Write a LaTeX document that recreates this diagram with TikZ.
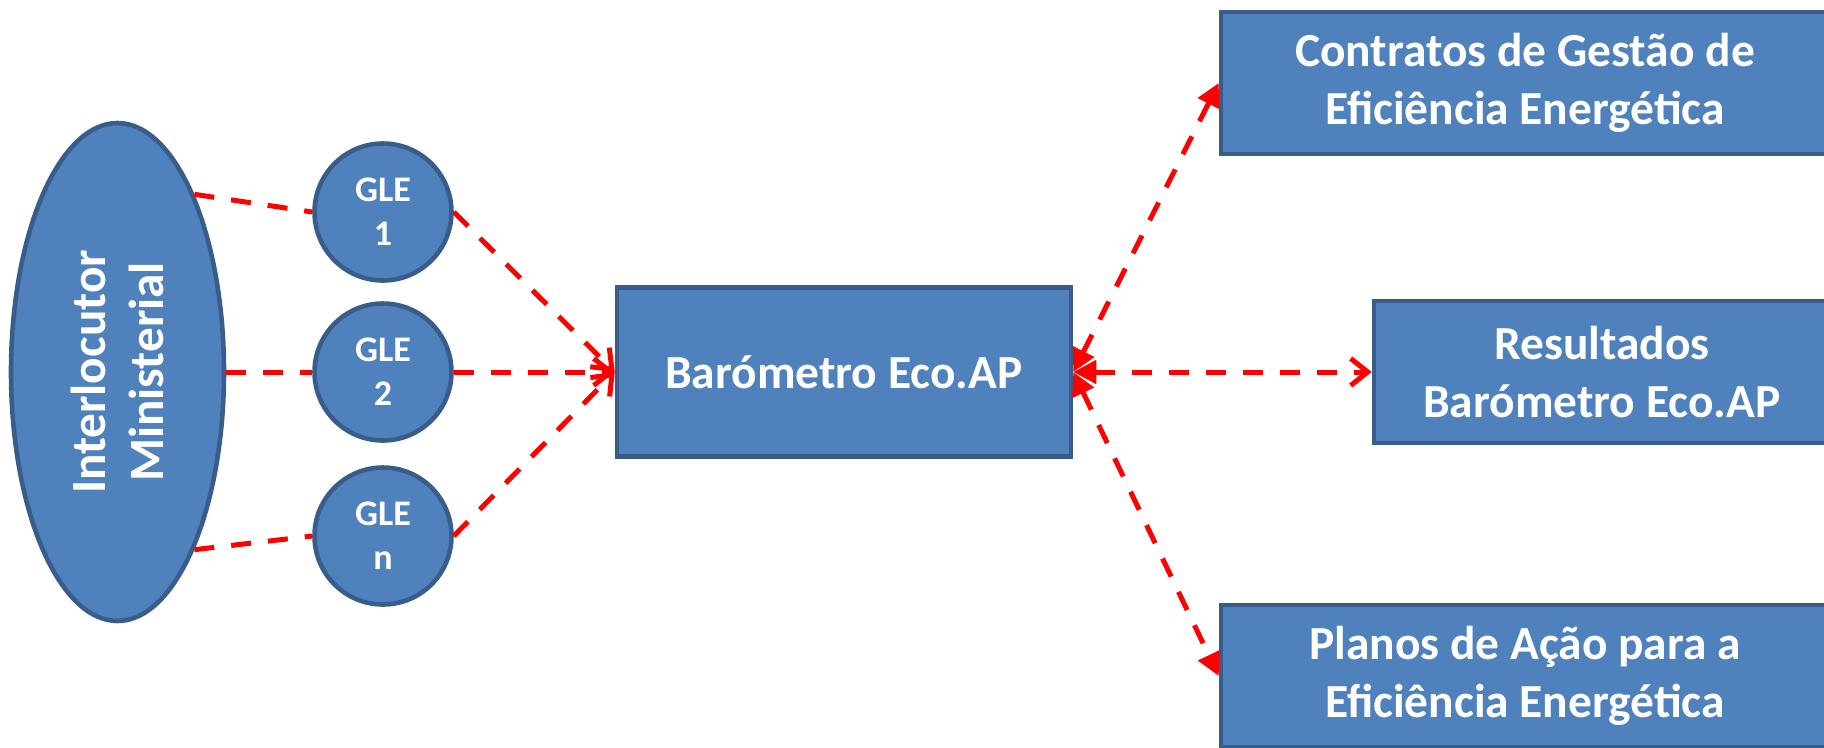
\documentclass[tikz,border=0pt]{standalone}
\usepackage{fontspec}
\setmainfont{Carlito}
\usetikzlibrary{shapes.geometric,arrows.meta}

\definecolor{boxfill}{HTML}{4F81BD}
\definecolor{boxline}{HTML}{385D8A}

\tikzset{
  blockbox/.style={draw=boxline, line width=2.6pt, fill=boxfill, text=white,
    font=\bfseries\fontsize{27}{33}\selectfont, align=center, inner sep=0pt},
  glenode/.style={circle, draw=boxline, line width=2.6pt, fill=boxfill, text=white,
    font=\bfseries\fontsize{20.5}{25}\selectfont, align=center,
    minimum size=2.74cm, inner sep=0pt},
  redlink/.style={draw=red, line width=2.85pt, dash pattern=on 0.4cm off 0.34cm},
  tri/.tip={Triangle[length=0.46cm,width=0.46cm]},
  barb/.tip={Straight Barb[length=0.34cm,width=0.54cm]}
}

\begin{document}
\begin{tikzpicture}
  \clip (0,0) rectangle (36.48,-14.94);
  \useasboundingbox (0,0) rectangle (36.48,-14.94);

  % ministry and the local managers
  \node[ellipse, draw=boxline, line width=2.6pt, fill=boxfill, minimum width=4.26cm,
    minimum height=9.96cm, inner sep=0pt] (ell) at (2.35,-7.44) {};
  \node[rotate=90, text=white, font=\bfseries\fontsize{28}{33}\selectfont, align=center]
    (elltext) at (ell) {Interlocutor\\Ministerial};

  \node[glenode] (gle1) at (7.66,-4.24) {GLE\\1};
  \node[glenode] (gle2) at (7.66,-7.44) {GLE\\2};
  \node[glenode] (glen) at (7.66,-10.72) {GLE\\n};

  % barometer and its outputs
  \node[blockbox, minimum width=9.08cm, minimum height=3.38cm] (baro) at (16.88,-7.44) {Barómetro Eco.AP};
  \node[blockbox, minimum width=12.16cm, minimum height=2.84cm] (contr) at (30.5,-1.66) {Contratos de Gestão de\\Eficiência Energética};
  \node[blockbox, minimum width=9.12cm, minimum height=2.84cm] (res) at (32.04,-7.44) {Resultados\\Barómetro Eco.AP};
  \node[blockbox, minimum width=12.16cm, minimum height=2.84cm] (plan) at (30.5,-13.52) {Planos de Ação para a\\Eficiência Energética};

  \draw[redlink] (ell.north east) -- (gle1.west);
  \draw[redlink] (ell.east) -- (gle2.west);
  \draw[redlink] (ell.south east) -- (glen.west);

  \draw[redlink, -barb] (gle1.east) -- (baro.west);
  \draw[redlink, -barb] (gle2.east) -- (baro.west);
  \draw[redlink, -barb] (glen.east) -- (baro.west);

  \draw[redlink, tri-tri] (baro.east) -- (contr.west);
  \draw[redlink, tri-barb] (baro.east) -- (res.west);
  \draw[redlink, tri-tri] (baro.east) -- (plan.west);
\end{tikzpicture}
\end{document}
